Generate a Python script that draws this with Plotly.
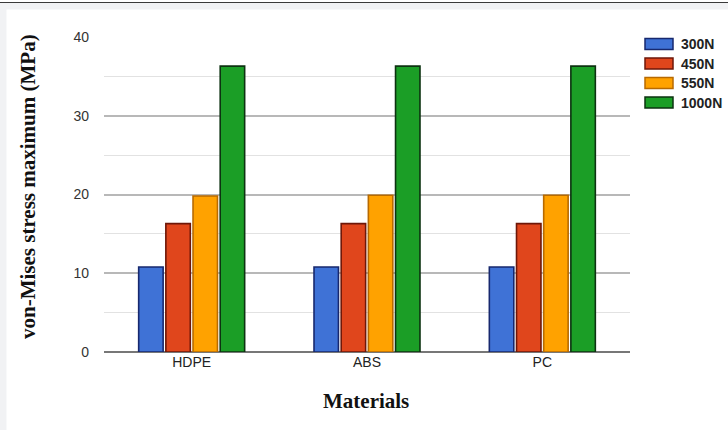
import plotly.graph_objects as go

materials = ["HDPE", "ABS", "PC"]
series_names = ["300N", "450N", "550N", "1000N"]
v300 = [10.8, 10.8, 10.8]
v450 = [16.3, 16.3, 16.3]
v550 = [19.8, 19.9, 19.9]
v1000 = [36.3, 36.3, 36.3]
y_ticks = [0, 10, 20, 30, 40]

values = [v300, v450, v550, v1000]
fills = ["#3f72d6", "#e0461c", "#ffa200", "#1b9e26"]
edges = ["#17286e", "#6e1708", "#b86a00", "#0d3311"]

W, H = 728, 430
L, R, T, B = 104, 98, 37, 78
PW, PH = W - L - R, H - T - B


def px_x(x):
    return (x - L) / PW


def px_y(y):
    return (H - B - y) / PH


fig = go.Figure()
for name, vals, fc, ec in zip(series_names, values, fills, edges):
    fig.add_trace(go.Bar(
        x=materials, y=vals, name=name,
        marker=dict(color=fc, line=dict(color=ec, width=1.6)),
        showlegend=False, hoverinfo="skip",
    ))

shapes = [
    dict(type="rect", xref="paper", yref="paper", layer="below",
         x0=px_x(-5), x1=px_x(W + 5), y0=px_y(H + 5), y1=px_y(0),
         fillcolor="#f1f2f4", line=dict(width=0)),
    dict(type="rect", xref="paper", yref="paper", layer="below",
         x0=px_x(6.5), x1=px_x(W + 5), y0=px_y(H + 5), y1=px_y(9.5),
         fillcolor="#ffffff", line=dict(width=0)),
    dict(type="rect", xref="paper", yref="paper", layer="below",
         x0=px_x(-5), x1=px_x(W + 5), y0=px_y(2), y1=px_y(0),
         fillcolor="#ffffff", line=dict(width=0)),
    dict(type="line", xref="paper", yref="paper", layer="below",
         x0=px_x(0), x1=px_x(W), y0=px_y(2.5), y1=px_y(2.5),
         line=dict(color="#3a3a3a", width=1.2)),
]
annotations = []
leg_y = [44, 63.5, 83, 102.5]
for name, fc, ec, cy in zip(series_names, fills, edges, leg_y):
    shapes.append(dict(type="rect", xref="paper", yref="paper",
                       x0=px_x(645), x1=px_x(673), y0=px_y(cy + 5.5), y1=px_y(cy - 5.5),
                       fillcolor=fc, line=dict(color=ec, width=1.5)))
    annotations.append(dict(xref="paper", yref="paper", x=px_x(679), y=px_y(cy),
                            xanchor="left", yanchor="middle", showarrow=False,
                            text=f"<b>{name}</b>",
                            font=dict(family="Arial, Liberation Sans", size=14, color="#222")))

annotations.append(dict(xref="paper", yref="paper", x=px_x(28), y=px_y(187),
                        textangle=-90, showarrow=False, xanchor="center", yanchor="middle",
                        text="<b>von-Mises stress maximum (MPa)</b>",
                        font=dict(family="Times New Roman, Liberation Serif, serif", size=21, color="#111")))
annotations.append(dict(xref="paper", yref="paper", x=px_x(366), y=px_y(401),
                        showarrow=False, xanchor="center", yanchor="middle",
                        text="<b>Materials</b>",
                        font=dict(family="Times New Roman, Liberation Serif, serif", size=21, color="#111")))

fig.update_layout(
    width=W, height=H,
    margin=dict(l=L, r=R, t=T, b=B, pad=0),
    paper_bgcolor="#ffffff", plot_bgcolor="rgba(0,0,0,0)",
    barmode="group", bargap=0.38, bargroupgap=0.1,
    shapes=shapes, annotations=annotations,
    showlegend=False,
)
fig.update_xaxes(
    showgrid=False, zeroline=False, showline=False, ticks="",
    tickfont=dict(family="Arial, Liberation Sans", size=14, color="#222"),
)
fig.update_yaxes(
    range=[0, 40], tickvals=y_ticks, ticks="", ticklabelstandoff=14,
    showgrid=True, gridcolor="#b8b8b8", gridwidth=1.5,
    minor=dict(dtick=5, showgrid=True, gridcolor="#e2e2e2", gridwidth=1.2),
    zeroline=True, zerolinecolor="#777777", zerolinewidth=2,
    showline=False,
    tickfont=dict(family="Arial, Liberation Sans", size=14, color="#333"),
)

fig.write_html(
    "out.html",
    config={"displayModeBar": False},
    post_script="document.body.style.margin='0';document.body.style.overflow='hidden';",
)
